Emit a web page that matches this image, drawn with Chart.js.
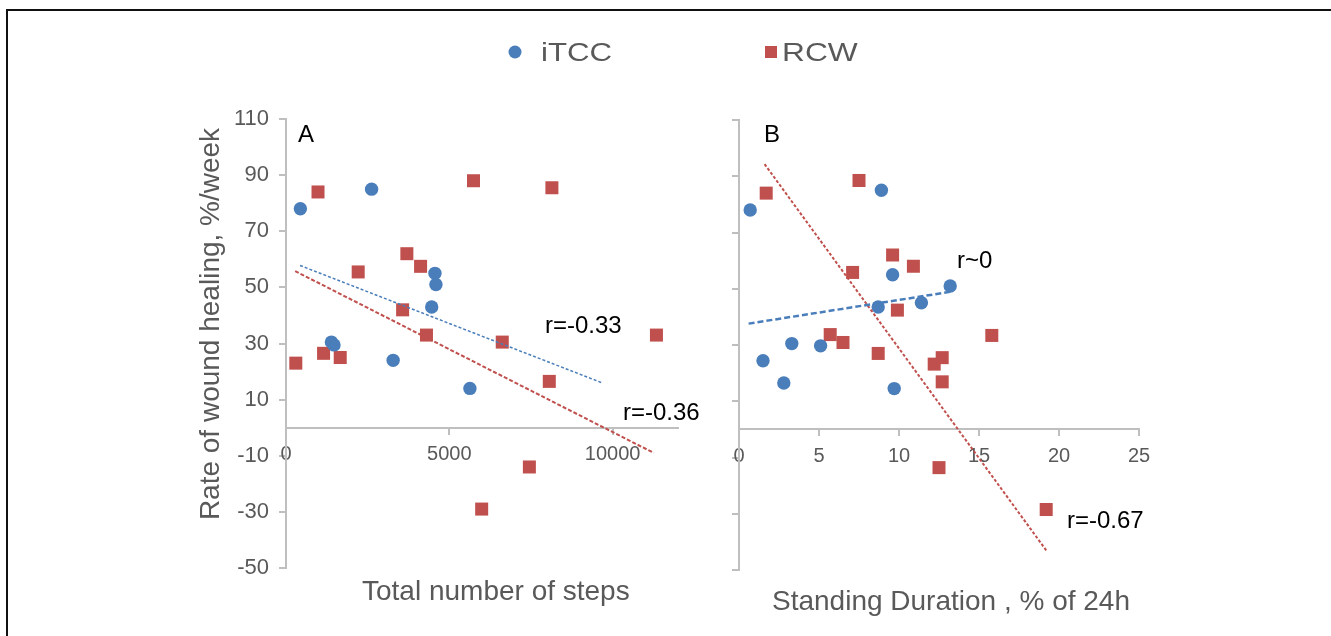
<!DOCTYPE html>
<html>
<head>
<meta charset="utf-8">
<script src="https://cdn.jsdelivr.net/npm/chart.js@4.4.1/dist/chart.umd.min.js"></script>
<style>
html, body { margin: 0; padding: 0; background: #fff; }
#wrap { position: relative; width: 1331px; height: 636px; overflow: hidden; }
#wrap canvas { position: absolute; left: 0; top: 0; }
#frame { position: absolute; left: 6px; top: 9px; right: -10px; bottom: -10px; border-top: 2px solid #111; border-left: 2px solid #111; }
</style>
</head>
<body>
<div id="wrap">
  <div id="frame"></div>
  <canvas id="chartA" width="1331" height="636"></canvas>
  <canvas id="chartB" width="1331" height="636"></canvas>
</div>
<script>
// panel A: total number of steps vs healing rate
const stepsITCC = [440, 2620, 4560, 4590, 4460, 1390, 1470, 3280, 5630];
const healITCC_A = [78, 85, 55, 51, 43, 30.5, 29.5, 24, 14];
const stepsRCW = [300, 980, 1150, 1660, 2210, 3700, 4120, 3570, 4300, 5740, 8140, 6620, 8060, 7450, 5990, 11340];
const healRCW_A = [23, 84, 26.5, 25, 55.5, 62, 57.5, 42, 33, 88, 85.5, 30.5, 16.5, -14, -29, 33];

// panel B: standing duration (% of 24h) vs healing rate
const standITCC = [0.7, 8.9, 9.6, 13.2, 8.7, 11.4, 3.3, 5.1, 1.5, 2.8, 9.7];
const healITCC_B = [78, 85, 55, 51, 43.5, 45, 30.5, 29.7, 24.4, 16.5, 14.5];
const standRCW = [1.7, 7.5, 9.6, 10.9, 7.1, 9.9, 5.7, 6.5, 8.7, 12.2, 12.7, 12.7, 15.8, 12.5, 19.2];
const healRCW_B = [84, 88.5, 62, 58, 55.8, 42.4, 33.7, 30.9, 27, 23.2, 25.5, 16.9, 33.4, -13.6, -28.5];

// trend line ends
const trendA_ITCC_x = [430, 9650], trendA_ITCC_y = [57.8, 16.1];
const trendA_RCW_x = [280, 11260], trendA_RCW_y = [55.8, -9];
const trendB_ITCC_x = [0.6, 13.2], trendB_ITCC_y = [37.6, 48.9];
const trendB_RCW_x = [1.6, 19.2], trendB_RCW_y = [94.3, -43];

// tick values
const yTicks = [-50, -30, -10, 10, 30, 50, 70, 90, 110];
const xTicksA = [0, 5000, 10000];
const xTicksB = [0, 5, 10, 15, 20, 25];

const seriesNames = ['iTCC', 'RCW'];
const yTitle = 'Rate of wound healing, %/week';
const xTitleA = 'Total number of steps';
const xTitleB = 'Standing Duration , % of 24h';

const blue = '#4a7ebb';
const red = '#c0504d';
const gray = '#595959';
const axisGray = '#bfbfbf';
const fontFam = '"Liberation Sans", Arial, sans-serif';

function pts(xs, ys) {
    return xs.map((x, i) => ({x: x, y: ys[i]}));
}

// draws panel letters, r values, axis titles and the shared legend
const textPlugin = {
    id: 'panelText',
    afterDraw(chart, args, opts) {
        const ctx = chart.ctx;
        (opts.markers || []).forEach(m => {
            ctx.save();
            ctx.fillStyle = m.color;
            if (m.shape == 'circle') {
                ctx.beginPath();
                ctx.arc(m.x, m.y, m.size / 2, 0, Math.PI * 2);
                ctx.fill();
            } else {
                ctx.fillRect(m.x - m.size / 2, m.y - m.size / 2, m.size, m.size);
            }
            ctx.restore();
        });
        (opts.items || []).forEach(t => {
            ctx.save();
            ctx.translate(t.x, t.y);
            if (t.rotate) ctx.rotate(t.rotate);
            if (t.stretch) ctx.scale(t.stretch, 1);
            ctx.font = t.font;
            ctx.fillStyle = t.color;
            ctx.textAlign = t.align || 'left';
            ctx.textBaseline = 'alphabetic';
            ctx.fillText(t.text, 0, 0);
            ctx.restore();
        });
    }
};

function yAxis(showLabels, width) {
    return {
        type: 'linear',
        position: 'left',
        min: -50, max: 110,
        afterFit: (scale) => { scale.width = width; },
        afterBuildTicks: (scale) => { scale.ticks = yTicks.map(v => ({value: v})); },
        ticks: {
            display: showLabels,
            autoSkip: false,
            padding: 10,
            color: gray,
            font: {family: fontFam, size: 22}
        },
        grid: {drawOnChartArea: false, drawTicks: true, tickLength: 7, color: axisGray, lineWidth: 2},
        border: {display: true, color: axisGray, width: 2}
    };
}

function xAxis(max, tickVals) {
    return {
        type: 'linear',
        position: {y: 0},
        min: 0, max: max,
        afterBuildTicks: (scale) => { scale.ticks = tickVals.map(v => ({value: v})); },
        ticks: {
            autoSkip: false,
            maxRotation: 0,
            padding: 9,
            color: gray,
            font: {family: fontFam, size: 20},
            callback: (v) => String(v)
        },
        grid: {drawOnChartArea: false, drawTicks: true, tickLength: 6, color: axisGray, lineWidth: 2},
        border: {display: true, color: axisGray, width: 2}
    };
}

function scatterSet(label, data, color, style, radius) {
    return {
        label: label, data: data, showLine: false,
        pointStyle: style, pointRadius: radius,
        backgroundColor: color, borderColor: color, borderWidth: 0
    };
}

function trendSet(data, color, width, dash) {
    return {
        data: data, showLine: true, pointRadius: 0,
        borderColor: color, borderWidth: width, borderDash: dash, fill: false
    };
}

const annFont = '24px ' + fontFam;
const titleFont = '28px ' + fontFam;

new Chart(document.getElementById('chartA'), {
    type: 'scatter',
    data: {
        datasets: [
            trendSet(pts(trendA_ITCC_x, trendA_ITCC_y), blue, 1.5, [3, 2]),
            trendSet(pts(trendA_RCW_x, trendA_RCW_y), red, 2, [4, 2]),
            scatterSet(seriesNames[0], pts(stepsITCC, healITCC_A), blue, 'circle', 6.7),
            scatterSet(seriesNames[1], pts(stepsRCW, healRCW_A), red, 'rect', 9.2)
        ]
    },
    options: {
        responsive: false,
        animation: false,
        layout: {padding: {left: 0, top: 119, right: 653, bottom: 68}},
        scales: {x: xAxis(12000, xTicksA), y: yAxis(true, 286)},
        plugins: {
            legend: {display: false},
            tooltip: {enabled: false},
            panelText: {
                markers: [
                    {shape: 'circle', x: 515, y: 52, size: 13, color: blue},
                    {shape: 'rect', x: 771, y: 52, size: 12, color: red}
                ],
                items: [
                    {text: seriesNames[0], x: 541, y: 61, font: '26px ' + fontFam, color: gray, stretch: 1.2},
                    {text: seriesNames[1], x: 782, y: 61, font: '26px ' + fontFam, color: gray, stretch: 1.22},
                    {text: 'A', x: 298, y: 142, font: annFont, color: '#000'},
                    {text: 'r=-0.33', x: 545, y: 333, font: annFont, color: '#000'},
                    {text: 'r=-0.36', x: 623, y: 420, font: annFont, color: '#000'},
                    {text: yTitle, x: 219, y: 324, font: titleFont, color: gray, align: 'center', rotate: -Math.PI / 2},
                    {text: xTitleA, x: 362, y: 600, font: titleFont, color: gray}
                ]
            }
        }
    },
    plugins: [textPlugin]
});

new Chart(document.getElementById('chartB'), {
    type: 'scatter',
    data: {
        datasets: [
            trendSet(pts(trendB_ITCC_x, trendB_ITCC_y), blue, 2.5, [6, 3]),
            trendSet(pts(trendB_RCW_x, trendB_RCW_y), red, 2, [3, 2]),
            scatterSet(seriesNames[0], pts(standITCC, healITCC_B), blue, 'circle', 6.7),
            scatterSet(seriesNames[1], pts(standRCW, healRCW_B), red, 'rect', 9.2)
        ]
    },
    options: {
        responsive: false,
        animation: false,
        layout: {padding: {left: 729, top: 120, right: 192, bottom: 66}},
        scales: {x: xAxis(25, xTicksB), y: yAxis(false, 10)},
        plugins: {
            legend: {display: false},
            tooltip: {enabled: false},
            panelText: {
                items: [
                    {text: 'B', x: 764, y: 142, font: annFont, color: '#000'},
                    {text: 'r~0', x: 957, y: 268, font: annFont, color: '#000'},
                    {text: 'r=-0.67', x: 1067, y: 528, font: annFont, color: '#000'},
                    {text: xTitleB, x: 772, y: 610, font: titleFont, color: gray}
                ]
            }
        }
    },
    plugins: [textPlugin]
});
</script>
</body>
</html>
